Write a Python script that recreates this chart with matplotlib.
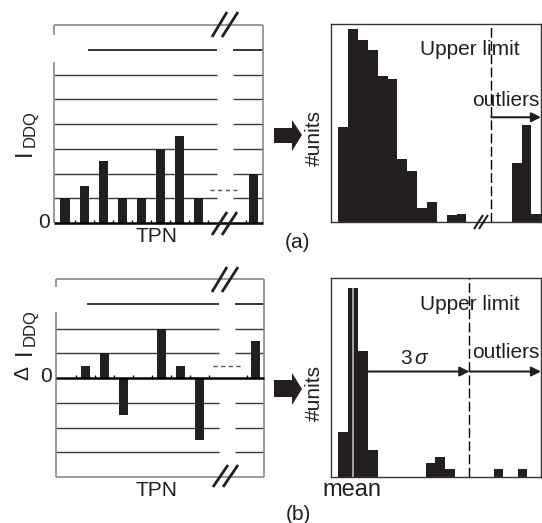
import matplotlib
matplotlib.use('Agg')
import matplotlib.pyplot as plt
from matplotlib.lines import Line2D
from matplotlib.patches import Polygon

plt.rcParams['font.family'] = ['Liberation Sans', 'DejaVu Sans']

W, H = 542, 523
DARK = '#231f20'
GRID = '#3a3a3a'
SPINE = '#8a8a8a'

# ---------------- data ----------------
# (a) IDDQ per test pattern number (TPN); units = grid steps
tpn_a = [0, 1, 2, 3, 4, 5, 6, 7, 9.9]
iddq = [1, 1.5, 2.5, 1, 1, 3, 3.5, 1, 2]
# (b) delta IDDQ per TPN
tpn_b = [1, 2, 3, 5, 6, 7, 9.95]
delta_iddq = [0.5, 1, -1.5, 2, 0.5, -2.5, 1.5]
tpn_ticks = [0.5, 1.5, 2.5, 3.5, 4.5, 5.5, 6.5, 7.5, 9.5]

# (a) histogram of IDDQ
hist_a_bins = [0, 1, 2, 3, 4, 5, 6, 7, 8, 9, 10, 11, 12, 17.6, 18.6, 19.6]
hist_a_counts = [48, 97.6, 92, 87, 73.5, 72, 32, 26, 7, 10, 0, 3.7, 4, 29.6, 49, 4]
upper_limit_a = 15.53

# (b) histogram of delta IDDQ
hist_b_bins = [0, 1, 2, 3, 8.85, 9.85, 10.85, 15.76, 18.2]
hist_b_counts = [22.4, 95, 63.4, 13.4, 7.2, 10, 4.2, 4.2, 4.2]
mean_b = 1.53
upper_limit_b = 13.3

fig = plt.figure(figsize=(W / 100, H / 100), dpi=100)


def rect(x0, y0, x1, y1):
    return [x0 / W, 1 - y1 / H, (x1 - x0) / W, (y1 - y0) / H]


def ftxt(x, y, s, **kw):
    kw.setdefault('fontsize', 15)
    kw.setdefault('ha', 'center')
    kw.setdefault('va', 'center')
    fig.text(x / W, 1 - y / H, s, color=DARK, **kw)


def fline(pts, lw=2.0, color=DARK):
    xs = [p[0] / W for p in pts]
    ys = [1 - p[1] / H for p in pts]
    fig.add_artist(Line2D(xs, ys, transform=fig.transFigure, lw=lw, color=color,
                          solid_capstyle='butt'))


XL = (-0.58, 10.4)
GAP = (8.0, 8.85)


def left_panel(ax, slots, vals, y0, y1, levels, partial, pstart, spine_gap,
               dash_y, dash_x, bottom_gray):
    ax.set_xlim(*XL)
    ax.set_ylim(y0, y1)
    ax.axis('off')
    kw = dict(clip_on=False)
    for g in levels:
        ax.hlines(g, XL[0], GAP[0], color=GRID, lw=1.0, zorder=1, **kw)
        ax.hlines(g, GAP[1], XL[1], color=GRID, lw=1.0, zorder=1, **kw)
    ax.hlines(partial, pstart, GAP[0], color='black', lw=1.1, zorder=1, **kw)
    ax.hlines(partial, GAP[1], XL[1], color='black', lw=1.1, zorder=1, **kw)
    # frame
    ax.hlines(y1, XL[0], XL[1], color=SPINE, lw=1.2, **kw)
    ax.vlines(XL[1], y0, y1, color=SPINE, lw=1.2, **kw)
    ax.vlines(XL[0], y0, spine_gap[0], color=SPINE, lw=1.2, **kw)
    ax.vlines(XL[0], spine_gap[1], y1, color=SPINE, lw=1.2, **kw)
    if bottom_gray:
        ax.hlines(y0, XL[0], XL[1], color=SPINE, lw=1.2, **kw)
    ax.bar(slots, vals, width=0.48, color=DARK, zorder=3)
    ax.hlines(0, XL[0], XL[1], color='black', lw=1.8, zorder=4, **kw)
    ax.vlines(tpn_ticks, 0, 0.13, color='black', lw=1.0, zorder=4)
    ax.hlines(dash_y, dash_x[0], dash_x[1], color='#555555', lw=1.0,
              linestyles=(0, (3, 2.5)), zorder=2)


def right_panel(ax, bins, counts, upper):
    ax.set_xlim(-0.75, 20.58)
    ax.set_ylim(0, 100)
    ax.set_xticks([])
    ax.set_yticks([])
    for s in ax.spines.values():
        s.set_color('#333333')
        s.set_linewidth(1.0)
    ax.bar(bins, counts, width=1.0, align='edge', color=DARK, lw=0, zorder=2)
    ax.axvline(upper, color='black', lw=1.0, ls=(0, (7, 2.5)), zorder=3)


arrow_kw = dict(arrowstyle='-|>', color=DARK, lw=1.5, mutation_scale=14,
                shrinkA=0, shrinkB=0)

# ---------- (a) ----------
axa = fig.add_axes(rect(54, 25, 263, 223))
left_panel(axa, tpn_a, iddq, 0, 8, [1, 2, 3, 4, 5, 6], 7, 1.2, (6.5, 7.6),
           1.32, (7.63, 9.16), False)

axha = fig.add_axes(rect(331, 24, 541, 222))
right_panel(axha, hist_a_bins, hist_a_counts, upper_limit_a)
axha.annotate('', xy=(20.58, 52.9), xytext=(upper_limit_a, 52.9),
              arrowprops=arrow_kw, annotation_clip=False, zorder=4)

# ---------- (b) ----------
axb = fig.add_axes(rect(56, 279, 264, 477))
left_panel(axb, tpn_b, delta_iddq, -4, 4, [-3, -2, -1, 1, 2], 3, 1.05,
           (2.67, 3.68), 0.5, (7.7, 9.2), True)

axhb = fig.add_axes(rect(331, 278, 541, 477))
right_panel(axhb, hist_b_bins, hist_b_counts, upper_limit_b)
axhb.vlines(mean_b, 0, hist_b_counts[1], color='#b0b0b0', lw=1.3, zorder=3)
axhb.annotate('', xy=(upper_limit_b, 53), xytext=(mean_b, 53),
              arrowprops=arrow_kw, zorder=1)
axhb.annotate('', xy=(20.58, 53), xytext=(upper_limit_b, 53),
              arrowprops=arrow_kw, annotation_clip=False, zorder=4)

# ---------- block arrows ----------
for (yt, ys0, ys1, yh0, yh1) in [(135, 128, 143, 120, 151), (389, 380, 397, 373, 405)]:
    pts = [(274, ys0), (292, ys0), (292, yh0), (302, yt), (292, yh1), (292, ys1), (274, ys1)]
    fig.add_artist(Polygon([(x / W, 1 - y / H) for x, y in pts], closed=True,
                           transform=fig.transFigure, color=DARK, lw=0))

# ---------- break marks ----------
fline([(212, 37), (227, 12)]); fline([(222, 37), (238, 12)])
fline([(212, 235), (227, 212)]); fline([(222, 235), (237, 212)])
fline([(212, 292), (227, 267)]); fline([(222, 292), (238, 267)])
fline([(213, 487), (228, 465)]); fline([(223, 487), (238, 465)])
fline([(474, 229), (483, 215)], lw=1.5); fline([(479, 229), (488, 215)], lw=1.5)

# ---------- texts ----------
ftxt(50, 223, '0', ha='right')
ftxt(157, 237, 'TPN')
ftxt(25, 153, 'I', rotation=90, fontsize=17)
ftxt(30, 129, 'DDQ', rotation=90, fontsize=12)
ftxt(298, 242, '(a)')

ftxt(52, 377, '0', ha='right')
ftxt(157, 490, 'TPN')
ftxt(23, 373, 'Δ', rotation=90, fontsize=15)
ftxt(25, 352, 'I', rotation=90, fontsize=17)
ftxt(30, 328, 'DDQ', rotation=90, fontsize=12)
ftxt(298, 515, '(b)')

ftxt(314, 138, '#units', rotation=90)
ftxt(470, 49, 'Upper limit')
ftxt(506, 100, 'outliers')

ftxt(314, 393, '#units', rotation=90)
ftxt(470, 305, 'Upper limit')
ftxt(506, 352, 'outliers')
ftxt(406, 358, '3')
ftxt(421, 358, 'σ', style='italic')
ftxt(352, 490, 'mean', fontsize=17)

fig.savefig('out.png', dpi=100)
